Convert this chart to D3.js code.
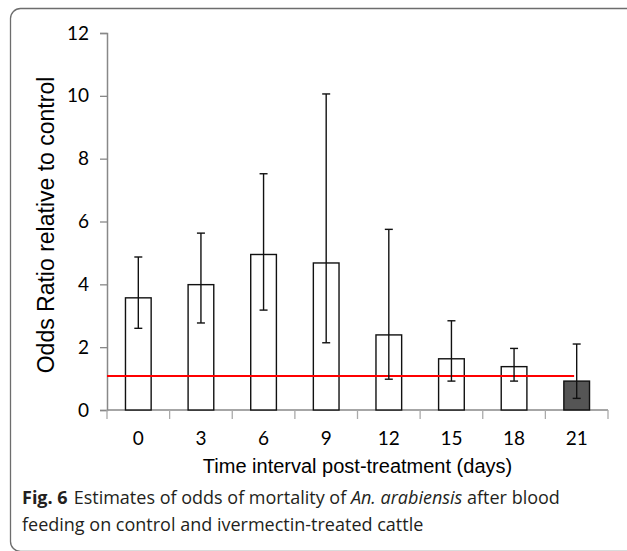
<!DOCTYPE html>
<html>
<head>
<meta charset="utf-8">
<script src="https://cdn.jsdelivr.net/npm/d3@7"></script>
<style>
  body { margin: 0; background: #fff; }
  svg { display: block; }
</style>
</head>
<body>
<script>
// data
const days = ["0", "3", "6", "9", "12", "15", "18", "21"];
const oddsRatio = [3.57, 3.99, 4.95, 4.68, 2.39, 1.63, 1.38, 0.92];
const ciLow  = [2.60, 2.77, 3.18, 2.14, 0.98, 0.92, 0.92, 0.37];
const ciHigh = [4.87, 5.63, 7.52, 10.06, 5.75, 2.84, 1.96, 2.10];
const shaded = ["21"];
const refLine = 1.08;
const yTicks = [0, 2, 4, 6, 8, 10, 12];

const width = 627, height = 551;
const plot = { left: 107, right: 608, top: 33, bottom: 410 };
const tickFont = "Lato, 'Open Sans', sans-serif";

const svg = d3.select("body").append("svg")
  .attr("width", width)
  .attr("height", height);

// frame round the figure, cropped on the right and bottom
svg.append("rect")
  .attr("x", 10.5).attr("y", 8.5)
  .attr("width", 700).attr("height", 543)
  .attr("rx", 10)
  .attr("fill", "none")
  .attr("stroke", "#6d6d6d")
  .attr("stroke-width", 1.3);

const x = d3.scaleBand()
  .domain(days)
  .range([plot.left, plot.right])
  .paddingInner(0.59)
  .paddingOuter(0.295);

const y = d3.scaleLinear()
  .domain([0, 12])
  .range([plot.bottom, plot.top]);

// y axis
const yAxis = svg.append("g")
  .attr("transform", `translate(${plot.left},0)`)
  .call(d3.axisLeft(y).tickValues(yTicks).tickSize(7).tickPadding(11));
yAxis.selectAll("text")
  .attr("font-family", tickFont)
  .attr("font-size", 19)
  .attr("fill", "#000");
yAxis.select(".domain").attr("stroke", "#888").attr("stroke-width", 1.5);
yAxis.selectAll(".tick line").attr("stroke", "#888").attr("stroke-width", 1.3);

// x axis, ticks on category boundaries like excel
const bounds = d3.range(days.length + 1).map(i => plot.left + i * (plot.right - plot.left) / days.length);
const xAxis = svg.append("g")
  .attr("transform", `translate(0,${plot.bottom})`);
xAxis.append("line")
  .attr("x1", plot.left).attr("x2", plot.right)
  .attr("stroke", "#888").attr("stroke-width", 1.5);
xAxis.selectAll(".bt").data(bounds).join("line")
  .attr("class", "bt")
  .attr("x1", d => d).attr("x2", d => d)
  .attr("y1", 0).attr("y2", 9)
  .attr("stroke", "#aaa").attr("stroke-width", 1.3);
xAxis.selectAll("text").data(days).join("text")
  .attr("x", d => x(d) + x.bandwidth() / 2)
  .attr("y", 35)
  .attr("text-anchor", "middle")
  .attr("font-family", tickFont)
  .attr("font-size", 19)
  .attr("fill", "#000")
  .text(d => d);

// bars
svg.append("g").selectAll("rect")
  .data(days)
  .join("rect")
  .attr("x", d => x(d))
  .attr("y", (d, i) => y(oddsRatio[i]))
  .attr("width", x.bandwidth())
  .attr("height", (d, i) => y(0) - y(oddsRatio[i]))
  .attr("fill", d => shaded.includes(d) ? "#555" : "#fff")
  .attr("stroke", "#111")
  .attr("stroke-width", 1.4);

// reference line
svg.append("line")
  .attr("x1", plot.left)
  .attr("x2", x("21") + x.bandwidth() * 0.4)
  .attr("y1", y(refLine)).attr("y2", y(refLine))
  .attr("stroke", "#ff0000")
  .attr("stroke-width", 2);

// error bars
const cap = 4;
const err = svg.append("g").attr("stroke", "#111").attr("stroke-width", 1.4);
days.forEach((d, i) => {
  const cx = x(d) + x.bandwidth() / 2;
  err.append("line").attr("x1", cx).attr("x2", cx).attr("y1", y(ciLow[i])).attr("y2", y(ciHigh[i]));
  err.append("line").attr("x1", cx - cap).attr("x2", cx + cap).attr("y1", y(ciLow[i])).attr("y2", y(ciLow[i]));
  err.append("line").attr("x1", cx - cap).attr("x2", cx + cap).attr("y1", y(ciHigh[i])).attr("y2", y(ciHigh[i]));
});

// axis titles
svg.append("text")
  .attr("transform", "translate(54,225) rotate(-90)")
  .attr("text-anchor", "middle")
  .attr("font-family", "'Liberation Sans', Arial, sans-serif")
  .attr("font-size", 23)
  .text("Odds Ratio relative to control");

svg.append("text")
  .attr("x", (plot.left + plot.right) / 2)
  .attr("y", 473)
  .attr("text-anchor", "middle")
  .attr("font-family", "'Liberation Sans', Arial, sans-serif")
  .attr("font-size", 20)
  .text("Time interval post-treatment (days)");

// caption
const cap1 = svg.append("text")
  .attr("x", 22).attr("y", 504)
  .attr("font-family", "'Open Sans', sans-serif")
  .attr("font-size", 18)
  .attr("fill", "#231f20");
cap1.append("tspan").attr("font-weight", "bold").text("Fig. 6");
cap1.append("tspan").attr("dx", 6).text("Estimates of odds of mortality of ");
cap1.append("tspan").attr("font-style", "italic").text("An. arabiensis");
cap1.append("tspan").text(" after blood");

svg.append("text")
  .attr("x", 22).attr("y", 531)
  .attr("font-family", "'Open Sans', sans-serif")
  .attr("font-size", 18)
  .attr("fill", "#231f20")
  .text("feeding on control and ivermectin-treated cattle");
</script>
</body>
</html>
